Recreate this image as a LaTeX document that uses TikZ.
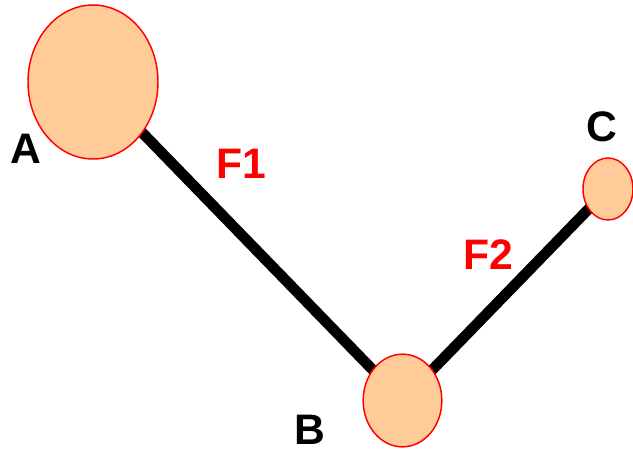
\documentclass[tikz,border=0pt]{standalone}
\usepackage{fontspec}
\setmainfont{Liberation Sans}
\usetikzlibrary{shapes.geometric}
\definecolor{peach}{HTML}{FFCC99}
\begin{document}
\begin{tikzpicture}[x=0.75pt,y=-0.75pt,
  ball/.style={ellipse,draw=red,line width=1.1pt,fill=peach,inner sep=0pt},
  lbl/.style={font=\fontsize{32}{36}\selectfont\bfseries,inner sep=0pt},
  bar/.style={line width=8pt,black}]
\useasboundingbox (0,0) rectangle (633,454);
\coordinate (ca) at (93,82);
\coordinate (cb) at (402.5,400.5);
\coordinate (cc) at (608,189);
\draw[bar] (ca) -- (cb) -- (cc);
\node[ball,minimum width=97.5pt,minimum height=115.5pt] (A) at (ca) {};
\node[ball,minimum width=59pt,minimum height=69.5pt] (B) at (cb) {};
\node[ball,minimum width=37.5pt,minimum height=46.5pt] (C) at (cc) {};
\node[lbl] (la) at (26,149) {A};
\node[lbl] (lb) at (310,430) {B};
\node[lbl] (lc) at (602,127) {C};
\node[lbl,text=red] (f1) at (241,164) {F1};
\node[lbl,text=red] (f2) at (488,255) {F2};
\end{tikzpicture}
\end{document}
